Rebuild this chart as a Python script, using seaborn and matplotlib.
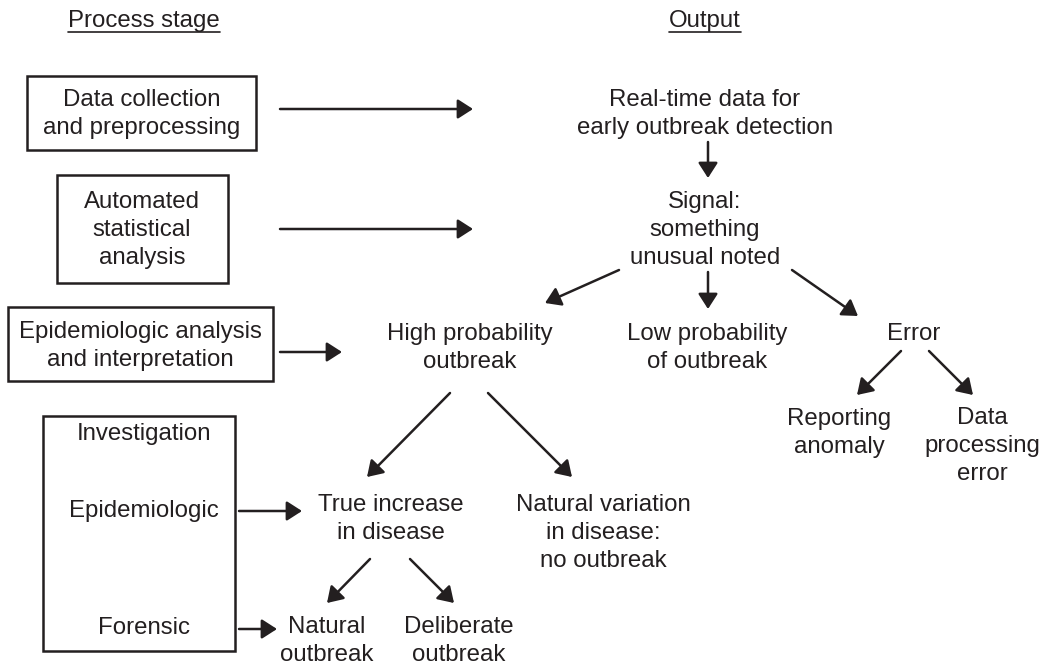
# Surveillance process flowchart: process stages on the left,
# outputs (signal -> interpretation -> investigation) on the right.

import matplotlib
matplotlib.use("Agg")
import matplotlib.pyplot as plt
import seaborn as sns
from matplotlib.patches import Rectangle

sns.set_theme(style="white")
plt.rcParams["font.family"] = ["Liberation Sans", "DejaVu Sans"]

INK = "#231f20"
FS = 17.3
LINE = 28  # px between baselines

# ---- text content -------------------------------------------------
headers = ["Process stage", "Output"]

stage_lines = [
    ["Data collection", "and preprocessing"],
    ["Automated", "statistical", "analysis"],
    ["Epidemiologic analysis", "and interpretation"],
]
investigation_lines = ["Investigation", "Epidemiologic", "Forensic"]

output_lines = [
    ["Real-time data for", "early outbreak detection"],
    ["Signal:", "something", "unusual noted"],
    ["High probability", "outbreak"],
    ["Low probability", "of outbreak"],
    ["Error"],
    ["Reporting", "anomaly"],
    ["Data", "processing", "error"],
    ["True increase", "in disease"],
    ["Natural variation", "in disease:", "no outbreak"],
    ["Natural", "outbreak"],
    ["Deliberate", "outbreak"],
]

# ---- layout (pixel coordinates, y downwards) -----------------------
header_pos = [(144, 27), (705, 27)]
stage_boxes = [(27, 76, 256, 150), (57, 175, 228, 283), (8, 307, 273, 381)]
stage_text = [(142, 106), (142, 208), (140, 338)]
inv_box = (43, 416, 235, 651)
inv_text = [(144, 440), (144, 517), (144, 634)]
output_pos = [(705, 106), (705, 208), (470, 340), (707, 340), (914, 340),
              (839, 425), (982, 424), (391, 511), (603, 511), (327, 633),
              (459, 633)]
arrows = [
    (280, 109, 473, 109), (280, 229, 473, 229), (280, 352, 342, 352),
    (239, 511, 302, 511), (239, 629, 277, 629),
    (708, 142, 708, 178), (619, 270, 545, 303), (708, 272, 708, 309),
    (792, 270, 858, 316), (450, 393, 367, 477), (488, 393, 572, 477),
    (901, 351, 857, 395), (929, 351, 973, 395), (370, 559, 327, 603),
    (410, 559, 454, 603),
]


def put_lines(ax, x, y0, lines):
    for i, s in enumerate(lines):
        ax.text(x, y0 + i * LINE, s, ha="center", va="baseline",
                fontsize=FS, color=INK)


fig = plt.figure(figsize=(10.42, 6.66), dpi=100)
ax = fig.add_axes([0, 0, 1, 1])
ax.set_xlim(0, 1042)
ax.set_ylim(666, 0)
ax.axis("off")

# headers with underline
hdr_texts = []
for s, (x, y) in zip(headers, header_pos):
    hdr_texts.append(ax.text(x, y, s, ha="center", va="baseline",
                             fontsize=FS, color=INK))
fig.canvas.draw()
inv = ax.transData.inverted()
for t, (x, y) in zip(hdr_texts, header_pos):
    bb = t.get_window_extent().transformed(inv)
    ax.plot([bb.x0, bb.x1], [y + 5, y + 5], color=INK, lw=1.2)

# process stage boxes
for (x0, y0, x1, y1), lines, (tx, ty) in zip(stage_boxes, stage_lines, stage_text):
    ax.add_patch(Rectangle((x0, y0), x1 - x0, y1 - y0, fill=False,
                           ec=INK, lw=1.8))
    put_lines(ax, tx, ty, lines)

x0, y0, x1, y1 = inv_box
ax.add_patch(Rectangle((x0, y0), x1 - x0, y1 - y0, fill=False, ec=INK, lw=1.8))
for s, (tx, ty) in zip(investigation_lines, inv_text):
    put_lines(ax, tx, ty, [s])

# output nodes
for lines, (tx, ty) in zip(output_lines, output_pos):
    put_lines(ax, tx, ty, lines)

# arrows
for xa, ya, xb, yb in arrows:
    ax.annotate("", xy=(xb, yb), xytext=(xa, ya),
                arrowprops=dict(arrowstyle="-|>,head_length=0.42,head_width=0.27",
                                mutation_scale=22, lw=1.8, color=INK,
                                shrinkA=0, shrinkB=0))

fig.savefig("out.png", dpi=100)
